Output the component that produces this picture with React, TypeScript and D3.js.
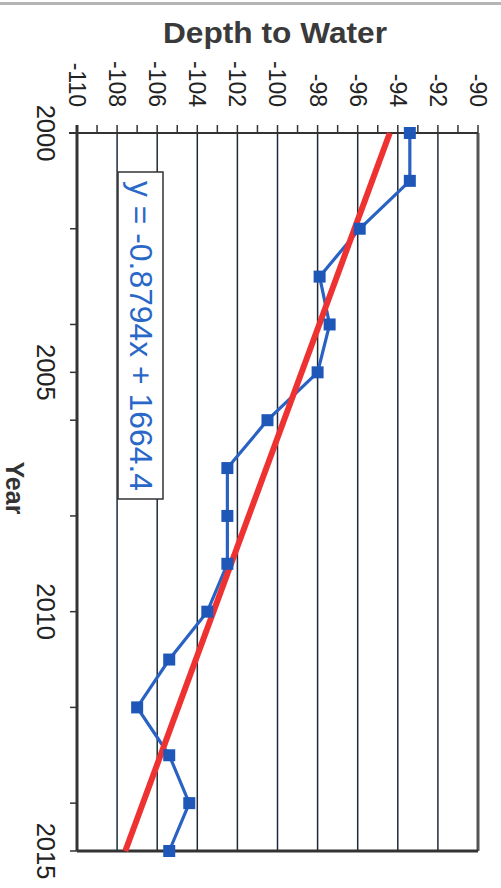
import React from "react";
import * as d3 from "d3";

const years = [2000, 2001, 2002, 2003, 2004, 2005, 2006, 2007, 2008, 2009, 2010, 2011, 2012, 2013, 2014, 2015];
const depths = [-93.4, -93.4, -95.9, -97.9, -97.4, -98.0, -100.5, -102.5, -102.5, -102.5, -103.5, -105.4, -107.0, -105.4, -104.4, -105.4];
const trendSlope = -0.8794;
const trendIntercept = 1664.4;
const depthTicks = [-110, -108, -106, -104, -102, -100, -98, -96, -94, -92, -90];
const yearLabelTicks = [2000, 2005, 2010, 2015];
const yearMinorTicks = [2002, 2004, 2006, 2008, 2010, 2012, 2014];
const titleText = "Depth to Water";
const yearTitle = "Year";
const equationText = "y = -0.8794x + 1664.4";

export default function App() {
  const W = 501, H = 888;
  const x = d3.scaleLinear().domain([-110, -90]).range([77, 478]);
  const y = d3.scaleLinear().domain([2000, 2015]).range([133, 851]);
  const depthMinor = d3.range(-110, -89, 1);
  const line = d3.line<number>().x((_, i) => x(depths[i])).y((_, i) => y(years[i]));
  const trendYears = [2000, 2015];
  const trend = d3.line<number>().x((yr) => x(trendSlope * yr + trendIntercept)).y((yr) => y(yr));
  const font = "'Liberation Sans', Arial, sans-serif";
  const [x0, x1] = x.range();
  const [y0, y1] = y.range();
  return (
    <svg width={W} height={H} style={{ position: "absolute", left: 0, top: 0, background: "#fff" }} fontFamily={font}>
      <rect x={0} y={0} width={W} height={H} fill="#fff" />
      <rect x={0} y={2} width={W} height={3} fill="#b5b5b5" />
      <text x={275} y={43} textAnchor="middle" fontWeight="bold" fontSize={29} fill="#3a3a3a" textLength={224} lengthAdjust="spacingAndGlyphs">{titleText}</text>
      {/* gridlines */}
      {depthTicks.slice(1, -1).map((v) => (
        <line key={"g" + v} x1={x(v)} x2={x(v)} y1={y0} y2={y1} stroke="#1e2a38" strokeWidth={1.5} />
      ))}
      {/* frame */}
      <line x1={x1} x2={x1} y1={y0} y2={y1} stroke="#555" strokeWidth={3} />
      <line x1={x0} x2={x1} y1={y1} y2={y1} stroke="#333" strokeWidth={3} />
      <line x1={x0 - 8} x2={x1} y1={y0} y2={y0} stroke="#333" strokeWidth={2.2} />
      <line x1={x0} x2={x0} y1={y0 - 8} y2={y1} stroke="#333" strokeWidth={3} />
      {/* depth ticks */}
      {depthMinor.map((v) => (
        <line key={"t" + v} x1={x(v)} x2={x(v)} y1={y0 - 8} y2={y0} stroke="#333" strokeWidth={1.5} />
      ))}
      {depthTicks.map((v) => (
        <text key={"l" + v} transform={`translate(${x(v)},107) rotate(90)`} textAnchor="end" dy="0.35em" fontSize={23} fill="#222">{v}</text>
      ))}
      {/* year ticks */}
      {Array.from(new Set([...yearLabelTicks, ...yearMinorTicks])).map((v) => (
        <line key={"yt" + v} x1={x0 - 7} x2={x0} y1={y(v)} y2={y(v)} stroke="#333" strokeWidth={1.5} />
      ))}
      {yearLabelTicks.map((v) => (
        <text key={"yl" + v} transform={`translate(45.5,${y(v)}) rotate(90)`} textAnchor="middle" dy="0.35em" fontSize={25.5} fill="#222">{v}</text>
      ))}
      <text transform={`translate(15,${(y0 + y1) / 2 - 4}) rotate(90)`} textAnchor="middle" dy="0.35em" fontSize={25} fontWeight="bold" fill="#333">{yearTitle}</text>
      {/* equation box */}
      <rect x={118} y={172} width={45} height={327} fill="#fff" stroke="#333" strokeWidth={1.5} />
      <text transform={`translate(141,336) rotate(90)`} textAnchor="middle" dy="0.35em" fontSize={30.5} fill="#2a68c8" textLength={310} lengthAdjust="spacingAndGlyphs">{equationText}</text>
      {/* data line */}
      <path d={line(years) || ""} fill="none" stroke="#2a62c4" strokeWidth={3.2} />
      {/* trend line */}
      <path d={trend(trendYears) || ""} fill="none" stroke="#ee3232" strokeWidth={6} />
      {years.map((yr, i) => (
        <rect key={"m" + yr} x={x(depths[i]) - 6} y={y(yr) - 6} width={12} height={12} fill="#1f57b8" />
      ))}
    </svg>
  );
}
